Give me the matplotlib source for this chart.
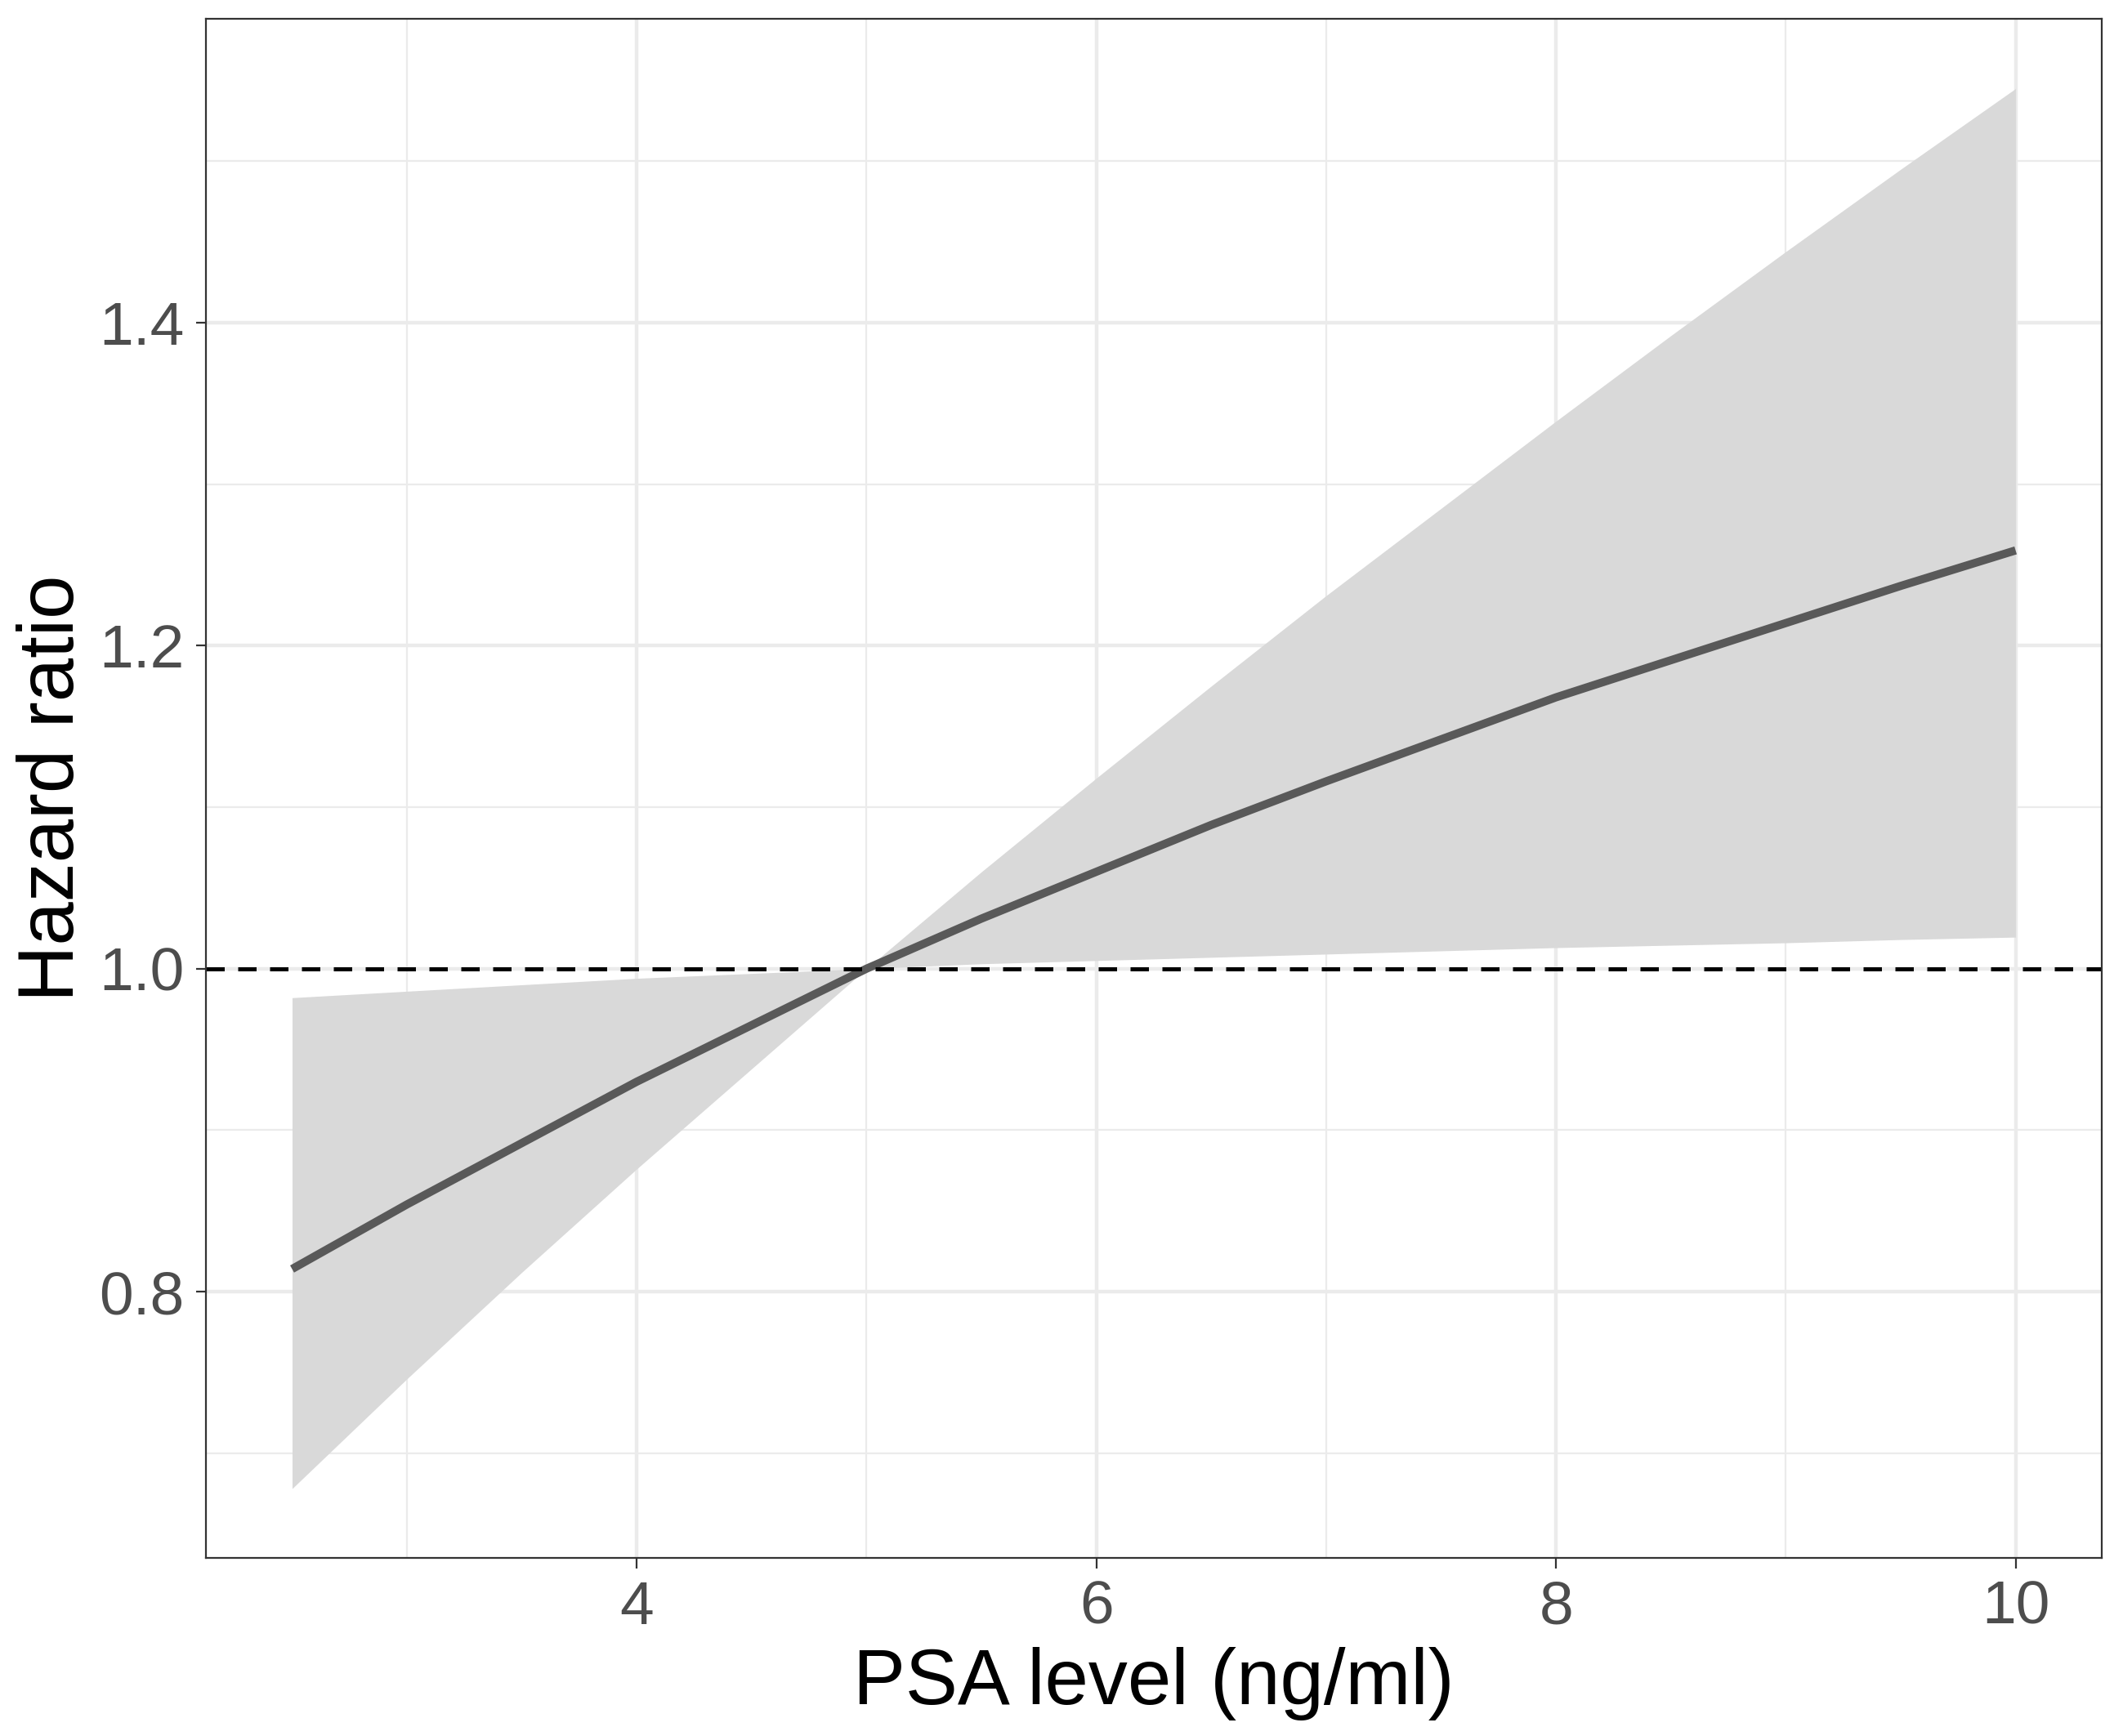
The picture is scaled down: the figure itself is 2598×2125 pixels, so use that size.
import matplotlib
matplotlib.use("Agg")
import matplotlib.pyplot as plt
from matplotlib.ticker import MultipleLocator

plt.rcParams['font.family'] = ['Liberation Sans', 'DejaVu Sans']

# values
psa = [2.5, 3.0, 3.5, 4.0, 4.5, 5.0, 5.5, 6.0, 6.5, 7.0, 7.5, 8.0, 8.5, 9.0, 9.5, 10.0]
hr = [0.814, 0.854, 0.892, 0.930, 0.965, 1.000, 1.031, 1.060, 1.089, 1.116, 1.142,
      1.168, 1.191, 1.214, 1.237, 1.259]
hr_upper = [0.982, 0.986, 0.990, 0.994, 0.997, 1.000, 1.060, 1.118, 1.175, 1.231, 1.285,
            1.339, 1.392, 1.444, 1.495, 1.545]
hr_lower = [0.678, 0.746, 0.812, 0.876, 0.938, 1.000, 1.003, 1.005, 1.007, 1.009, 1.011,
            1.013, 1.0145, 1.016, 1.018, 1.0195]

x_ticks = [4, 6, 8, 10]
y_ticks = [0.8, 1.0, 1.2, 1.4]

fig = plt.figure(figsize=(12.99, 10.625), dpi=200)
ax = fig.add_axes([0.097, 0.1025, 0.893, 0.8865])

ax.fill_between(psa, hr_lower, hr_upper, color='#d9d9d9', linewidth=0, zorder=2)
ax.plot(psa, hr, color='#595959', linewidth=3.6, solid_capstyle='butt',
        solid_joinstyle='round', zorder=3)
ax.axhline(1.0, color='black', linewidth=1.8, linestyle=(0, (4.5, 3.3)), zorder=4)

ax.set_xlim(2.125, 10.375)
ax.set_ylim(0.635, 1.588)
ax.set_xticks(x_ticks)
ax.set_yticks(y_ticks)
ax.set_yticklabels([f"{v:.1f}" for v in y_ticks])
ax.xaxis.set_minor_locator(MultipleLocator(1))
ax.yaxis.set_minor_locator(MultipleLocator(0.1))

ax.grid(which='major', color='#ebebeb', linewidth=1.6, zorder=0)
ax.grid(which='minor', color='#ebebeb', linewidth=0.8, zorder=0)
ax.set_axisbelow(True)

for s in ax.spines.values():
    s.set_color('#333333')
    s.set_linewidth(0.8)
    s.set_zorder(5)

ax.tick_params(which='major', length=4.5, width=0.8, color='#333333',
               labelsize=27, labelcolor='#4d4d4d', pad=5)
ax.tick_params(which='minor', length=0)

ax.set_xlabel('PSA level (ng/ml)', fontsize=34.5, color='black', labelpad=5)
ax.set_ylabel('Hazard ratio', fontsize=34.5, color='black', labelpad=4)

fig.savefig('out.png', dpi=200)
